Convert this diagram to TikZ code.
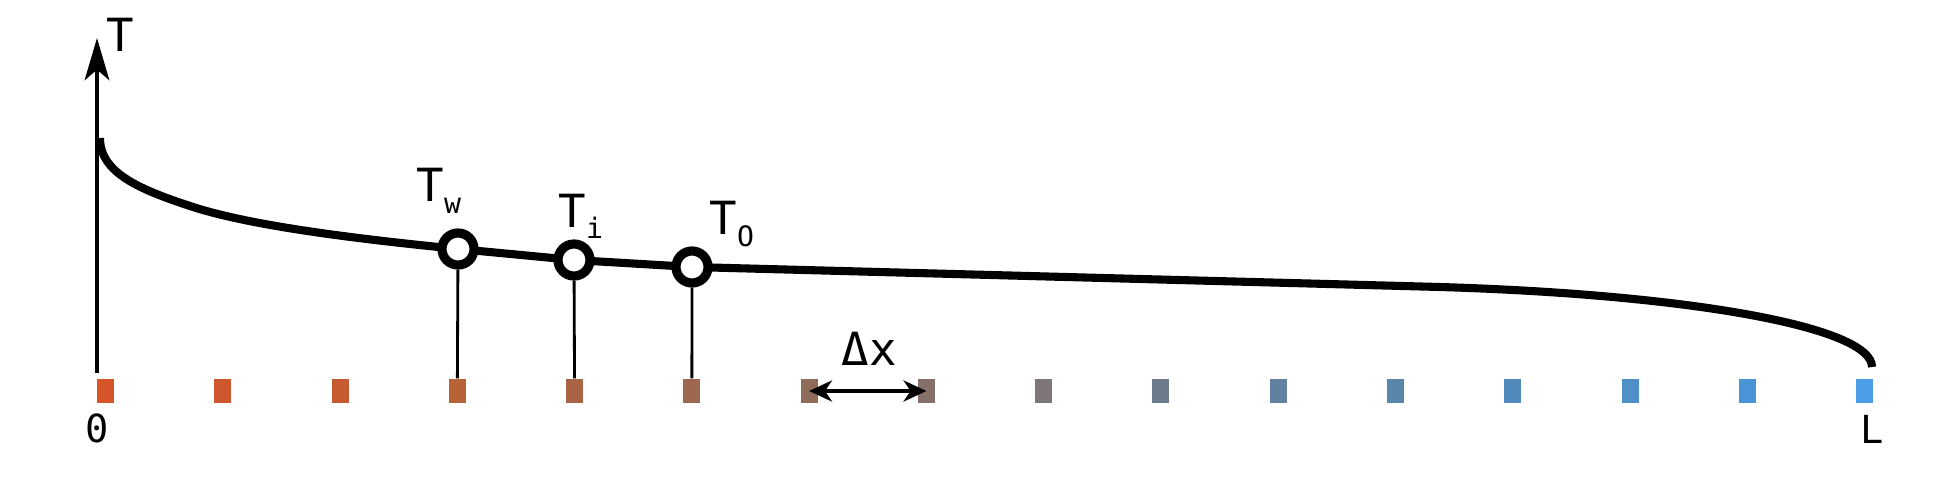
\documentclass[tikz,border=0pt]{standalone}
\usepackage{fontspec}
\setmainfont{DejaVu Sans Mono}
\usepackage{xcolor}
\usetikzlibrary{arrows.meta}
\newcommand{\subtxt}[1]{\raisebox{-3.4pt}{\fontsize{8}{9}\selectfont #1}}

\begin{document}
\begin{tikzpicture}[
  x=0.01cm, y=-0.01cm,
  cell/.style={rectangle, inner sep=0, minimum width=1.7mm, minimum height=2.4mm},
  probe/.style={circle, draw, fill=white, line width=2.6pt, inner sep=0, minimum size=3.2mm},
  profile/.style={line width=2.3pt},
  axis/.style={line width=1.1pt, -{Stealth[length=12pt, width=7pt, inset=3pt]}},
  drop/.style={line width=0.8pt},
  span/.style={line width=1pt, {Stealth[length=6.5pt, width=6pt, inset=2pt]}-{Stealth[length=6.5pt, width=6pt, inset=2pt]}},
  lbl/.style={inner sep=0, anchor=base, font=\fontsize{13}{15}\selectfont},
  tick/.style={inner sep=0, anchor=base, font=\fontsize{11}{13}\selectfont}
]
\useasboundingbox (0,0) rectangle (1952,479);

\foreach \i/\hex in {0/D5562A, 1/CF572D, 2/C65B31, 3/B86238, 4/A96445, 5/9E6850,
    6/8F6B5A, 7/86716A, 8/7C7679, 9/6C7B89, 10/6281A0, 11/5A86AC, 12/5289BD,
    13/4E90C7, 14/4994D6, 15/4A9DE6} {
  \definecolor{cellcol}{HTML}{\hex}
  \node[cell, fill=cellcol] (c\i) at ({105.5+117.27*\i}, 391) {};
}

\coordinate (origin) at (97,373);
\coordinate (ytop) at (97,38);
\draw[axis] (origin) -- (ytop);
\node[lbl] (ylabel) at (120,52) {T};
\node[tick] (zero) at (97,442) {0};
\node[tick] (len) at (1872,443) {L};

\coordinate (hot) at (100,138);
\coordinate (bend) at (190,206);
\coordinate (ptw) at (458,249);
\coordinate (pti) at (574,260);
\coordinate (pto) at (692,267);
\coordinate (flat) at (1440,287);
\coordinate (cold) at (1872,367);
\draw[profile] (hot) .. controls (100,173) and (140,189.5) .. (bend)
  .. controls (250,226) and (358,239) .. (ptw)
  -- (pti) -- (pto) -- (flat) .. controls (1690,294.5) and (1872,327) .. (cold);

\node[probe] (tw) at (ptw) {};
\node[probe] (ti) at (pti) {};
\node[probe] (to) at (pto) {};
\draw[drop] (tw) -- (c3);
\draw[drop] (ti) -- (c4);
\draw[drop] (to) -- (c5);

\node[lbl, anchor=base west] (lw) at (416,202) {T\subtxt{w}};
\node[lbl, anchor=base west] (li) at (558,227) {T\subtxt{i}};
\node[lbl, anchor=base west] (lo) at (709,235) {T\subtxt{O}};

\draw[span] (c6.center) -- (c7.center);
\node[lbl] (dx) at (869,365) {Δx};
\end{tikzpicture}
\end{document}
